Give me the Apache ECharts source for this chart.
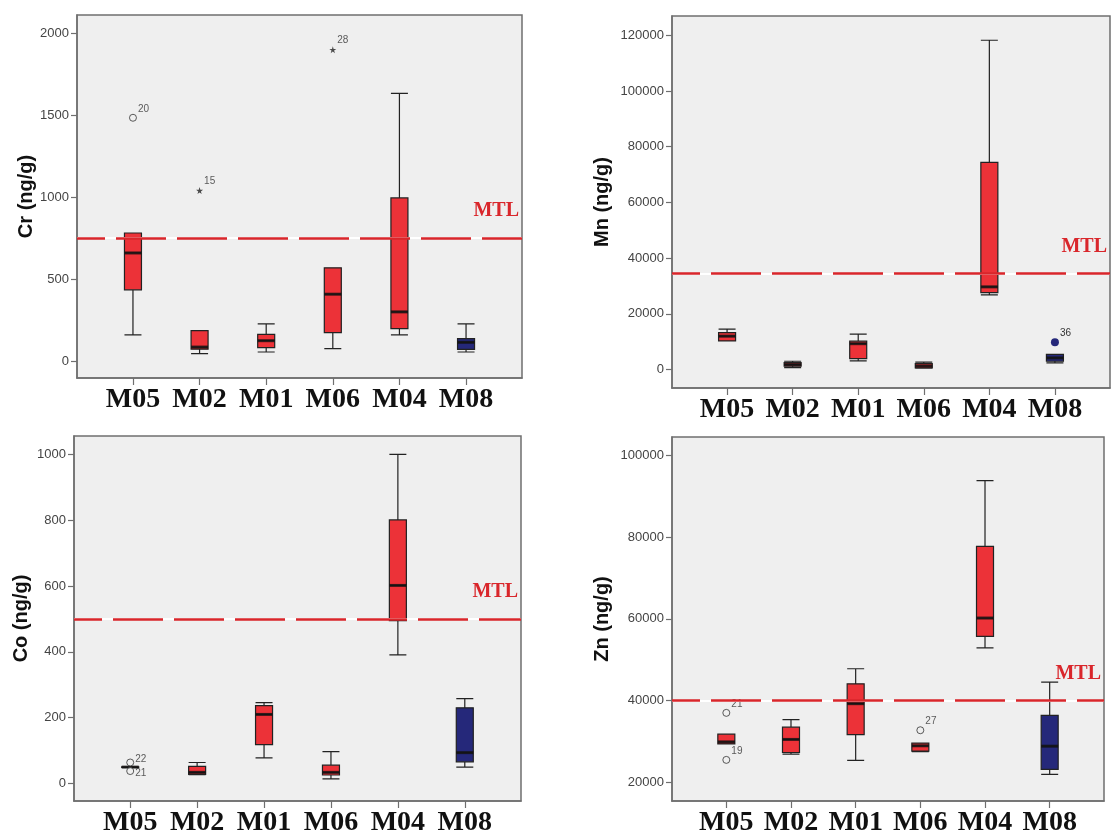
<!DOCTYPE html>
<html>
<head>
<meta charset="utf-8">
<script src="https://cdn.jsdelivr.net/npm/echarts@6.0.0/dist/echarts.min.js"></script>
<style>
html,body{margin:0;padding:0;background:#fff;}
#chart{width:1112px;height:837px;}
</style>
</head>
<body>
<div id="chart"></div>
<script>
// ---------- data ----------
const categories = ['M05', 'M02', 'M01', 'M06', 'M04', 'M08'];

// box stats per category: [min, Q1, median, Q3, max]
const crBoxes = [
  [160, 435, 660, 782, 782],
  [45, 72, 85, 185, 185],
  [55, 82, 124, 163, 227],
  [75, 173, 408, 569, 569],
  [159, 198, 300, 996, 1635],
  [55, 71, 114, 137, 227]
];
const mnBoxes = [
  [10300, 10300, 12000, 13300, 14500],
  [700, 1200, 1800, 2500, 3000],
  [3100, 3950, 9300, 10200, 12700],
  [480, 600, 1300, 2150, 2650],
  [26800, 27600, 29700, 74400, 118200],
  [2400, 3000, 4200, 5500, 5500]
];
const coBoxes = [
  [49, 49, 50, 51, 51],
  [27, 28, 34, 52, 64],
  [78, 118, 210, 237, 246],
  [14, 26, 34, 56, 97],
  [391, 495, 602, 801, 1000],
  [50, 66, 94, 230, 258]
];
const znBoxes = [
  [29400, 29400, 29900, 31800, 31800],
  [26900, 27300, 30500, 33500, 35350],
  [25360, 31700, 39250, 44100, 47800],
  [27500, 27650, 28950, 29600, 29600],
  [52900, 55700, 60200, 77750, 93800],
  [21950, 23200, 28850, 36400, 44500]
];

// outliers: [category index, value, case label, kind]
const crOutliers = [[0, 1486, '20', 'outlier'], [1, 1041, '15', 'extreme'], [3, 1902, '28', 'extreme']];
const mnOutliers = [[5, 9800, '36', 'outlier']];
const coOutliers = [[0, 64, '22', 'outlier'], [0, 38, '21', 'outlier']];
const znOutliers = [[0, 37000, '21', 'outlier'], [0, 25500, '19', 'outlier'], [3, 32750, '27', 'outlier']];

// MTL thresholds
const crMTL = 750;
const mnMTL = 34500;
const coMTL = 500;
const znMTL = 40000;

// tick labels
const crTicks = [0, 500, 1000, 1500, 2000];
const mnTicks = [0, 20000, 40000, 60000, 80000, 100000, 120000];
const coTicks = [0, 200, 400, 600, 800, 1000];
const znTicks = [20000, 40000, 60000, 80000, 100000];

// ---------- styling / layout ----------
const RED = '#ec3238';
const NAVY = '#25287a';
const FRAME = '#6f6f6f';
const BG = '#efefef';
const MTL_RED = '#d9262b';
const navySite = 'M08';
const catIdx = categories.map((c, i) => i);

const panels = [
  {name: 'Cr (ng/g)', boxes: crBoxes, outliers: crOutliers, mtl: crMTL, ticks: crTicks, yMin: -104, yMax: 2114,
   grid: {left: 77, top: 15, width: 445, height: 363}, nameGap: 41, kind: 'cr'},
  {name: 'Mn (ng/g)', boxes: mnBoxes, outliers: mnOutliers, mtl: mnMTL, ticks: mnTicks, yMin: -6600, yMax: 126900,
   grid: {left: 672, top: 16, width: 438, height: 372}, nameGap: 60, kind: 'mn'},
  {name: 'Co (ng/g)', boxes: coBoxes, outliers: coOutliers, mtl: coMTL, ticks: coTicks, yMin: -53, yMax: 1056,
   grid: {left: 74, top: 436, width: 447, height: 365}, nameGap: 43, kind: 'co'},
  {name: 'Zn (ng/g)', boxes: znBoxes, outliers: znOutliers, mtl: znMTL, ticks: znTicks, yMin: 15440, yMax: 104490,
   grid: {left: 672, top: 437, width: 432, height: 366}, nameGap: 60, kind: 'zn'}
];

const labelNudge = {'co-22': [0, -3], 'co-21': [0, 2]};
const starPath = 'path://M50,0 L61,35 L98,35 L68,57 L79,91 L50,70 L21,91 L32,57 L2,35 L39,35 Z';

const grids = [], xAxes = [], yAxes = [], series = [];

panels.forEach((p, k) => {
  grids.push(Object.assign({show: true, backgroundColor: BG, borderColor: FRAME, borderWidth: 1.5}, p.grid));
  xAxes.push({
    gridIndex: k, type: 'value', min: -0.84, max: 5.84,
    splitLine: {show: false},
    axisLine: {show: true, onZero: false, lineStyle: {color: FRAME, width: 1.5}},
    axisTick: {show: true, customValues: catIdx, length: 7, lineStyle: {color: FRAME, width: 1.2}},
    axisLabel: {customValues: catIdx, formatter: v => categories[Math.round(v)] || '',
      fontFamily: 'Liberation Serif', fontWeight: 'bold', fontSize: 28, color: '#111', margin: 8}
  });
  yAxes.push({
    gridIndex: k, type: 'value', min: p.yMin, max: p.yMax,
    name: p.name, nameLocation: 'middle', nameGap: p.nameGap,
    nameTextStyle: {fontFamily: 'Liberation Sans', fontWeight: 'bold', fontSize: 20, color: '#111'},
    splitLine: {show: false},
    axisLine: {show: true, onZero: false, lineStyle: {color: FRAME, width: 1.5}},
    axisTick: {show: true, customValues: p.ticks, length: 6, lineStyle: {color: FRAME, width: 1.2}},
    axisLabel: {customValues: p.ticks, formatter: v => String(v),
      fontFamily: 'Liberation Sans', fontSize: 13, color: '#444', margin: 8}
  });

  series.push({
    type: 'boxplot', xAxisIndex: k, yAxisIndex: k, boxWidth: [17, 17],
    silent: true,
    data: p.boxes.map((b, i) => ({
      value: [i].concat(b),
      itemStyle: {color: categories[i] === navySite ? NAVY : RED, borderColor: '#222', borderWidth: 1.2}
    }))
  });

  // medians (thick black bars) + MTL line drawn on top
  series.push({
    type: 'scatter', xAxisIndex: k, yAxisIndex: k, silent: true, z: 3,
    symbol: 'rect', symbolSize: [17, 3],
    itemStyle: {color: '#111'},
    data: p.boxes.map((b, i) => [i, b[2]]),
    markLine: {
      silent: true, symbol: 'none', animation: false,
      data: [
        {yAxis: p.mtl, lineStyle: {type: 'solid', color: '#ffffff', width: 2}, label: {show: false}},
        {yAxis: p.mtl, lineStyle: {type: [50, 11], dashOffset: 22, color: MTL_RED, width: 2.5},
         label: {show: true, formatter: 'MTL', position: 'insideEndTop', distance: [3, 17],
           fontFamily: 'Liberation Serif', fontWeight: 'bold', fontSize: 20, color: MTL_RED}}
      ]
    }
  });

  series.push({
    type: 'scatter', xAxisIndex: k, yAxisIndex: k, silent: true, z: 4,
    data: p.outliers.map(o => {
      const ext = o[3] === 'extreme';
      const filled = p.kind === 'mn';
      const nudge = labelNudge[p.kind + '-' + o[2]] || [0, -9];
      return {
        value: [o[0], o[1]],
        symbol: ext ? starPath : 'circle',
        symbolSize: ext ? 7 : (filled ? 8 : 7),
        itemStyle: ext ? {color: '#222'} :
          (filled ? {color: NAVY, opacity: 1} : {color: BG, borderColor: '#333', borderWidth: 1}),
        label: {show: true, formatter: o[2], position: 'right', distance: 1, offset: nudge,
          fontFamily: 'Liberation Sans', fontSize: 10, color: '#333'}
      };
    })
  });
});

const chart = echarts.init(document.getElementById('chart'), null, {renderer: 'canvas'});
chart.setOption({
  animation: false,
  backgroundColor: '#ffffff',
  grid: grids, xAxis: xAxes, yAxis: yAxes, series: series
});
</script>
</body>
</html>
